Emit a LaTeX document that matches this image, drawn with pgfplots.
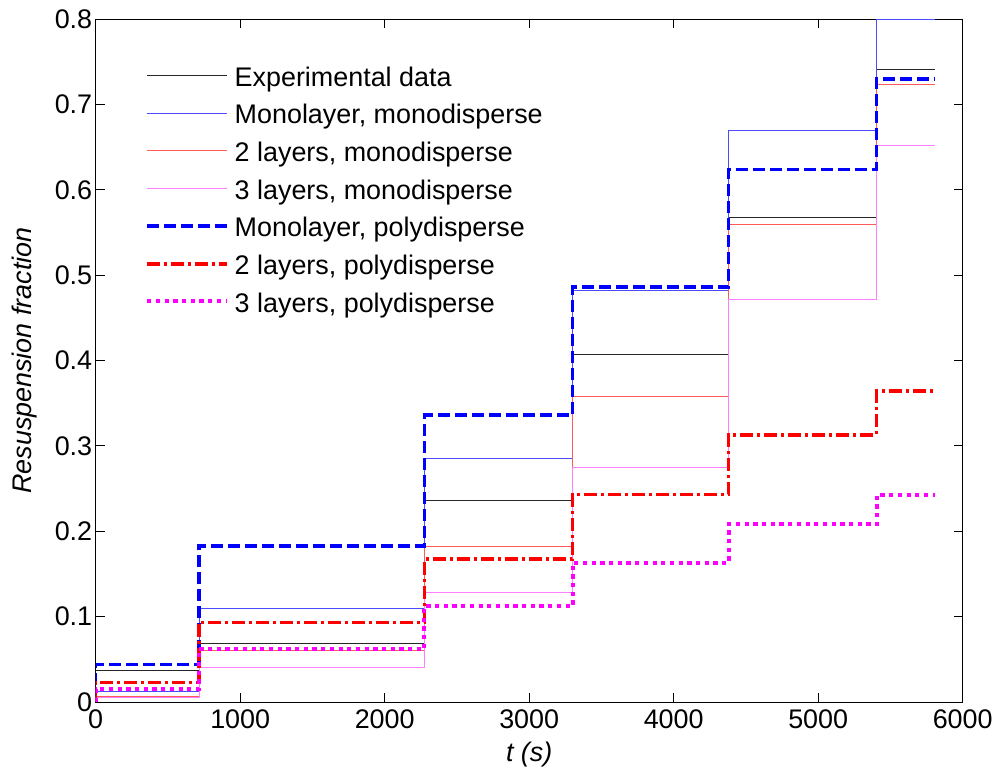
\documentclass[border=0pt]{standalone}
\usepackage{pgfplots}
\pgfplotsset{compat=1.18}
\usepackage{fontspec}
\setmainfont{Liberation Sans}
\definecolor{mmag}{rgb}{1,0,1}
\definecolor{mblue}{rgb}{0,0,1}
\definecolor{mred}{rgb}{1,0,0}

\pgfplotstableread{
x      exp    mm      lm2     lm3     mp     lp2     lp3
0      0      0       0       0       0      0       0
0      0.037  0.0125  0.007   0.005   0.044  0.023   0.015
715    0.069  0.110   0.060   0.041   0.183  0.093   0.062
2275   0.236  0.285   0.182   0.1285  0.336  0.1675  0.112
3300   0.407  0.482   0.358   0.275   0.486  0.243   0.163
4380   0.568  0.669   0.559   0.472   0.624  0.313   0.208
5405   0.741  0.800   0.723   0.652   0.730  0.364   0.2425
5810   0.741  0.800   0.723   0.652   0.730  0.364   0.2425
}\datatable

\begin{document}
\begin{tikzpicture}
\begin{axis}[
  scale only axis,
  width=867bp, height=683bp,
  xmin=0, xmax=6000, ymin=0, ymax=0.8,
  xtick={0,1000,2000,3000,4000,5000,6000},
  ytick={0,0.1,0.2,0.3,0.4,0.5,0.6,0.7,0.8},
  scaled ticks=false,
  /pgf/number format/assume math mode=true,
  xticklabel style={/pgf/number format/1000 sep={}, yshift=-4bp},
  yticklabel style={/pgf/number format/fixed, /pgf/number format/precision=1},
  tick align=inside,
  major tick length=9bp,
  every tick/.style={black, line width=0.8bp},
  axis line style={line width=0.9bp, black},
  font=\fontsize{27}{32}\selectfont,
  xlabel={\itshape t (s)},
  ylabel={\itshape Resuspension fraction},
  xlabel style={at={(axis description cs:0.5,0)}, anchor=base, yshift=-59bp},
  ylabel style={at={(axis description cs:-0.0738,0.5)}, anchor=base},
  legend cell align=left,
  legend style={draw=none, fill=none, at={(rel axis cs:0.0569,0.930)}, anchor=north west,
    inner sep=0pt, row sep=13.2bp, column sep=0pt,
    nodes={inner sep=0pt, text height=19bp, text depth=5.5bp},
    /tikz/every odd column/.append style={column sep=5.5bp},
    font=\fontsize{27}{32}\selectfont},
  legend image code/.code={\draw[#1] (0bp,4bp) -- (80bp,4bp);},
  const plot mark left,
]
\addplot[no marks, black!85, line width=0.7bp] table[x=x, y=exp] {\datatable};
\addlegendentry{Experimental data}
\addplot[no marks, mblue!70, line width=0.7bp] table[x=x, y=mm] {\datatable};
\addlegendentry{Monolayer, monodisperse}
\addplot[no marks, mred!65, line width=0.7bp] table[x=x, y=lm2] {\datatable};
\addlegendentry{2 layers, monodisperse}
\addplot[no marks, mmag!50, line width=0.7bp] table[x=x, y=lm3] {\datatable};
\addlegendentry{3 layers, monodisperse}
\addplot[no marks, mblue, line width=3.5bp, dash pattern=on 12bp off 5bp] table[x=x, y=mp] {\datatable};
\addlegendentry{Monolayer, polydisperse}
\addplot[no marks, mred, line width=3.5bp, dash pattern=on 13bp off 4bp on 3bp off 4bp] table[x=x, y=lp2] {\datatable};
\addlegendentry{2 layers, polydisperse}
\addplot[no marks, mmag, line width=4bp, dash pattern=on 4.2bp off 4.5bp] table[x=x, y=lp3] {\datatable};
\addlegendentry{3 layers, polydisperse}
\end{axis}
\pgfresetboundingbox
\path (current axis.south west) ++(-95.7bp,-71bp) rectangle ++(997bp,773bp);
\end{tikzpicture}
\end{document}
